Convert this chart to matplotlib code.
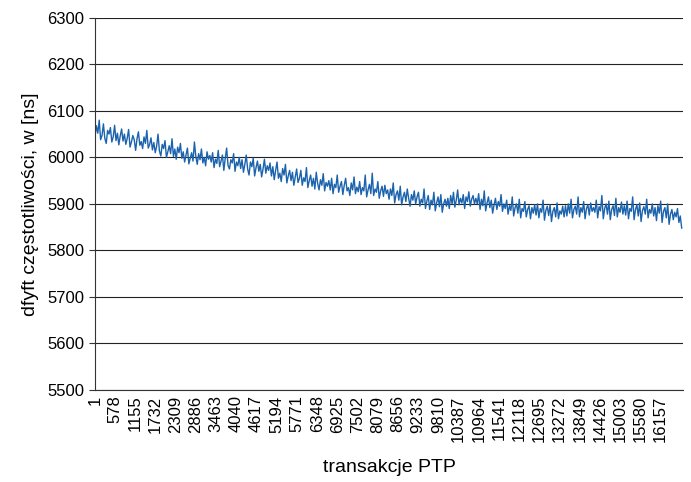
import numpy as np
import matplotlib
matplotlib.use("Agg")
import matplotlib.pyplot as plt

drift = [
    6045, 6068, 6052, 6080, 6038, 6047, 6072, 6041, 6030, 6058, 6050, 6064, 6033, 6044, 6069, 6036, 6052, 6027, 6046, 6061, 6035,
    6050, 6028, 6041, 6060, 6022, 6033, 6047, 6038, 6015, 6040, 6055, 6026, 6034, 6019, 6044, 6030, 6058, 6020, 6028, 6042, 6016,
    6032, 6010, 6024, 6050, 6014, 6003, 6028, 6019, 6036, 6000, 6012, 6025, 6008, 6040, 6002, 6018, 5996, 6022, 6010, 6030, 5998,
    6012, 5990, 6005, 6020, 5986, 5998, 6010, 5992, 6033, 6002, 5985, 6008, 5995, 6018, 5988, 6000, 5982, 6012, 5996, 6004, 5990,
    6010, 5978, 5996, 5987, 6015, 5980, 5992, 6005, 5972, 5998, 6020, 5983, 5975, 5995, 5988, 6008, 5970, 5990, 5982, 6000, 5976,
    5995, 5968, 5985, 6005, 5975, 5962, 5990, 5980, 5998, 5960, 5978, 5992, 5970, 5985, 5958, 5975, 5996, 5966, 5982, 5972, 5988,
    5960, 5980, 5952, 5972, 5990, 5955, 5966, 5948, 5976, 5962, 5985, 5945, 5960, 5972, 5950, 5968, 5940, 5958, 5975, 5946, 5955,
    5972, 5940, 5956, 5948, 5978, 5935, 5950, 5962, 5938, 5955, 5932, 5968, 5944, 5930, 5952, 5940, 5965, 5928, 5946, 5938, 5950,
    5930, 5955, 5922, 5942, 5935, 5962, 5925, 5938, 5948, 5920, 5940, 5955, 5928, 5935, 5918, 5945, 5930, 5958, 5922, 5936, 5926,
    5948, 5920, 5935, 5928, 5962, 5915, 5930, 5942, 5922, 5966, 5918, 5932, 5925, 5948, 5912, 5928, 5938, 5916, 5940, 5922, 5930,
    5910, 5932, 5918, 5945, 5902, 5920, 5928, 5908, 5938, 5898, 5915, 5925, 5905, 5932, 5912, 5895, 5920, 5908, 5928, 5900, 5915,
    5925, 5895, 5910, 5902, 5932, 5890, 5906, 5918, 5888, 5908, 5898, 5925, 5885, 5902, 5915, 5894, 5920, 5882, 5900, 5910, 5895,
    5912, 5890, 5918, 5900, 5925, 5893, 5908, 5930, 5898, 5912, 5902, 5920, 5890, 5915, 5905, 5926, 5895, 5910, 5918, 5900, 5912,
    5900, 5922, 5888, 5910, 5896, 5928, 5885, 5902, 5915, 5892, 5908, 5880, 5898, 5912, 5888, 5905, 5895, 5920, 5884, 5900, 5890,
    5908, 5878, 5896, 5886, 5915, 5874, 5892, 5900, 5880, 5910, 5870, 5890, 5884, 5905, 5872, 5888, 5896, 5868, 5892, 5880, 5898,
    5876, 5900, 5870, 5890, 5882, 5908, 5865, 5886, 5895, 5875, 5898, 5862, 5884, 5892, 5872, 5902, 5868, 5885, 5878, 5895, 5872,
    5896, 5874, 5900, 5880, 5910, 5870, 5888, 5895, 5878, 5915, 5872, 5892, 5882, 5905, 5868, 5890, 5898, 5876, 5902, 5884, 5892,
    5882, 5908, 5870, 5894, 5885, 5918, 5868, 5890, 5900, 5878, 5906, 5866, 5888, 5896, 5875, 5912, 5872, 5892, 5882, 5904, 5878,
    5896, 5876, 5906, 5868, 5890, 5884, 5915, 5866, 5888, 5898, 5874, 5902, 5862, 5886, 5894, 5878, 5910, 5870, 5888, 5880, 5900,
    5874, 5892, 5864, 5896, 5880, 5906, 5860, 5884, 5892, 5870, 5900, 5856, 5878, 5888, 5866, 5882, 5872, 5890, 5860, 5874, 5848,
]
step = 40
x_tick_labels = [1, 578, 1155, 1732, 2309, 2886, 3463, 4040, 4617, 5194, 5771, 6348,
                 6925, 7502, 8079, 8656, 9233, 9810, 10387, 10964, 11541, 12118,
                 12695, 13272, 13849, 14426, 15003, 15580, 16157]
y_ticks = [5500, 5600, 5700, 5800, 5900, 6000, 6100, 6200, 6300]

plt.rcParams['font.family'] = ['Liberation Sans', 'DejaVu Sans']

fig = plt.figure(figsize=(6.91, 4.82), dpi=100)
ax = fig.add_axes([0.1375, 0.191, 0.851, 0.772])

transakcje = 1 + step * np.arange(len(drift))
ax.plot(transakcje, drift, color='#1c63ad', linewidth=1.0)

ax.set_ylim(5500, 6300)
ax.set_xlim(1, 16800)
ax.set_yticks(y_ticks)
ax.set_xticks(x_tick_labels)
ax.set_xticklabels([str(v) for v in x_tick_labels], rotation=90, fontsize=12)
ax.tick_params(axis='y', labelsize=12, length=4, direction='out', color='#333333')
ax.tick_params(axis='x', length=0, pad=4)

ax.grid(axis='y', color='#222222', linewidth=0.8)
ax.set_axisbelow(True)
for s in ['top', 'right']:
    ax.spines[s].set_visible(False)
ax.spines['left'].set_color('#333333')
ax.spines['bottom'].set_color('#333333')

ax.set_ylabel('dfyft częstotliwości, w [ns]', fontsize=14, labelpad=6)
ax.set_xlabel('transakcje PTP', fontsize=14, labelpad=12)

fig.savefig('out.png', dpi=100)
